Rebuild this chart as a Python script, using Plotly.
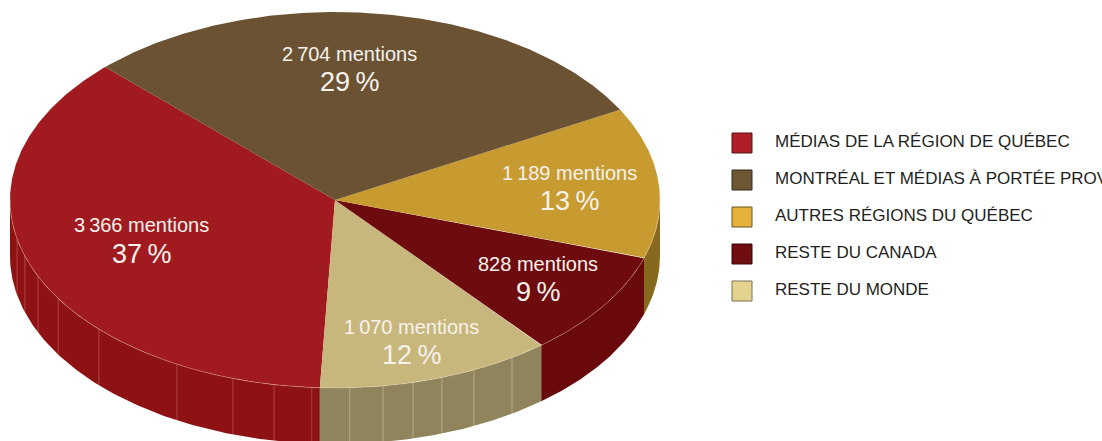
import numpy as np
import plotly.graph_objects as go

# Data
categories = ["MÉDIAS DE LA RÉGION DE QUÉBEC", "MONTRÉAL ET MÉDIAS À PORTÉE PROVINCIALE",
              "AUTRES RÉGIONS DU QUÉBEC", "RESTE DU CANADA", "RESTE DU MONDE"]
mentions = [3366, 2704, 1189, 828, 1070]
mention_labels = ["3\u2009366 mentions", "2\u2009704 mentions", "1\u2009189 mentions",
                  "828 mentions", "1\u2009070 mentions"]
percent_labels = ["37\u2009%", "29\u2009%", "13\u2009%", "9\u2009%", "12\u2009%"]

# Style
top_colors = ["#A01A1F", "#6B5233", "#C89B31", "#6E0B0E", "#C8B77C"]
wall_colors = ["#8E1214", "#5A4429", "#86691C", "#6A090B", "#8F845B"]
legend_colors = ["#B01E28", "#6E5733", "#E6B13A", "#700D10", "#E4D28F"]
legend_edges = ["#5a1014", "#33281a", "#6a5420", "#3a0608", "#7a7050"]

CX, CY, RX, RY, DEPTH = 335, 200, 325, 188, 56
START = 135.0      # parameter angle where the first slice begins
# Slice order around the pie, counter-clockwise in parameter angle from START
order = [0, 4, 3, 2, 1]
# Faint seams on the wall (degrees below the horizontal, decorative)
seam_angles = [-168, -162.6, -156, -148.4, -136.6, -119.1, -108.3, -100.8, -94.1,
               -87.4, -81.5, -76.1, -70.8, -64.7, -57]
seam_colors_tan = "rgba(255,245,220,0.35)"
seam_colors_red = "rgba(255,190,190,0.28)"

FONT = "Liberation Sans Narrow, Arial Narrow, Liberation Sans, sans-serif"


def ex(t):
    return CX + RX * np.cos(np.radians(t))


def ey(t):
    return CY - RY * np.sin(np.radians(t))


total = sum(mentions)
bounds = {}
a = START
for i in order:
    span = 360.0 * mentions[i] / total
    bounds[i] = (a, a + span)
    a += span

fig = go.Figure()

# Walls: visible only on the front half (180..360 degrees)
for i in order:
    a0, a1 = bounds[i]
    for shift in (0, 360, -360):
        lo, hi = max(a0 + shift, 180), min(a1 + shift, 360)
        if hi > lo:
            t = np.linspace(lo, hi, 120)
            xs = np.r_[ex(t), ex(t[::-1])]
            ys = np.r_[ey(t), ey(t[::-1]) + DEPTH]
            fig.add_trace(go.Scatter(x=xs, y=ys, mode="lines", fill="toself",
                                     fillcolor=wall_colors[i], line=dict(width=0),
                                     hoverinfo="skip", showlegend=False))

# Seams
for s in seam_angles:
    col = seam_colors_red if s < bounds[0][1] - 360 else seam_colors_tan
    fig.add_trace(go.Scatter(x=[ex(s), ex(s)], y=[ey(s), ey(s) + DEPTH], mode="lines",
                             line=dict(color=col, width=1), hoverinfo="skip", showlegend=False))

# Top faces
for i in order:
    a0, a1 = bounds[i]
    t = np.linspace(a0, a1, 240)
    xs = np.r_[CX, ex(t), CX]
    ys = np.r_[CY, ey(t), CY]
    fig.add_trace(go.Scatter(x=xs, y=ys, mode="lines", fill="toself", fillcolor=top_colors[i],
                             line=dict(width=0), name=categories[i],
                             text=f"{categories[i]}: {mentions[i]}", hoverinfo="text",
                             showlegend=False))

# Light rim along the front edge
t = np.linspace(180, 360, 300)
fig.add_trace(go.Scatter(x=ex(t), y=ey(t), mode="lines",
                         line=dict(color="rgba(255,225,200,0.45)", width=0.7),
                         hoverinfo="skip", showlegend=False))

# Slice labels
label_pos = [(141, 225, 254), (349, 54, 82), (569, 173, 201), (538, 264, 292), (411, 327, 355)]
for i, (x, y1, y2) in enumerate(label_pos):
    fig.add_annotation(x=x, y=y1, text=mention_labels[i], showarrow=False, xanchor="center", yanchor="middle",
                       font=dict(family=FONT, size=20, color="#F7F2EC"))
    fig.add_annotation(x=x, y=y2, text=percent_labels[i], showarrow=False, xanchor="center", yanchor="middle",
                       font=dict(family=FONT, size=27, color="#F7F2EC"))

# Legend
legend_y = [143, 180, 217, 254, 291]
fig.add_trace(go.Scatter(x=[742] * 5, y=legend_y, mode="markers",
                         marker=dict(symbol="square", size=20, color=legend_colors,
                                     line=dict(color=legend_edges, width=1)),
                         hoverinfo="skip", showlegend=False))
fig.add_trace(go.Scatter(x=[775] * 5, y=legend_y, mode="text", text=categories,
                         textposition="middle right",
                         textfont=dict(family=FONT, size=17, color="#231F20"),
                         hoverinfo="skip", showlegend=False))

fig.update_layout(width=1102, height=441, autosize=False,
                  margin=dict(l=0, r=0, t=0, b=0), paper_bgcolor="white", plot_bgcolor="white",
                  xaxis=dict(range=[0, 1102], visible=False, fixedrange=True),
                  yaxis=dict(range=[441, 0], visible=False, fixedrange=True))

fig.write_html("out.html", config={"displayModeBar": False},
               post_script="document.body.style.margin='0';document.body.style.overflow='hidden';")
